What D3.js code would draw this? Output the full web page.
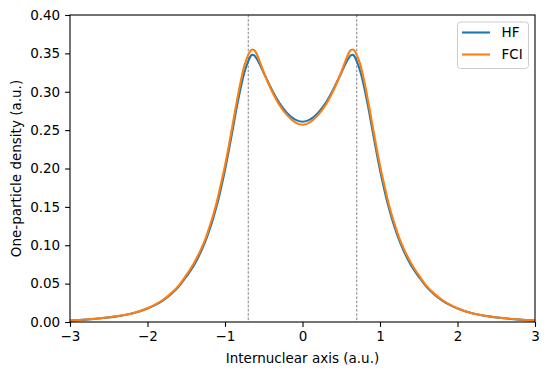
<!DOCTYPE html>
<html>
<head>
<meta charset="utf-8">
<script src="https://cdn.jsdelivr.net/npm/d3@7"></script>
<style>
  body { margin: 0; background: #fff; }
  svg { display: block; font-family: "DejaVu Sans", sans-serif; }
</style>
</head>
<body>
<svg id="chart" width="549" height="376"></svg>
<script>
// ---- data ----
const xValues = [-3.0, -2.8, -2.6, -2.4, -2.2, -2.0, -1.8, -1.7, -1.6, -1.5, -1.4, -1.3, -1.25, -1.2, -1.15, -1.1, -1.05, -1.0,
  -0.95, -0.9, -0.85, -0.8, -0.75, -0.7, -0.675, -0.65, -0.625, -0.6, -0.55, -0.5, -0.45, -0.4, -0.35, -0.3, -0.2, -0.1, 0.0,
  0.1, 0.2, 0.3, 0.35, 0.4, 0.45, 0.5, 0.55, 0.6, 0.625, 0.65, 0.675, 0.7, 0.75, 0.8, 0.85, 0.9, 0.95,
  1.0, 1.05, 1.1, 1.15, 1.2, 1.25, 1.3, 1.4, 1.5, 1.6, 1.7, 1.8, 2.0, 2.2, 2.4, 2.6, 2.8, 3.0];
const hfValues = [0.0019, 0.0031, 0.0048, 0.0073, 0.0110, 0.0175, 0.0280, 0.0360, 0.0460, 0.0590, 0.0740, 0.0940, 0.1060, 0.1200, 0.1360, 0.1540, 0.1750, 0.1980,
  0.2240, 0.2510, 0.2790, 0.3040, 0.3250, 0.3400, 0.3455, 0.3480, 0.3475, 0.3445, 0.3355, 0.3245, 0.3140, 0.3035, 0.2940, 0.2855, 0.2725, 0.2640, 0.2610,
  0.2640, 0.2725, 0.2855, 0.2940, 0.3035, 0.3140, 0.3245, 0.3355, 0.3445, 0.3475, 0.3480, 0.3455, 0.3400, 0.3250, 0.3040, 0.2790, 0.2510, 0.2240,
  0.1980, 0.1750, 0.1540, 0.1360, 0.1200, 0.1060, 0.0940, 0.0740, 0.0590, 0.0460, 0.0360, 0.0280, 0.0175, 0.0110, 0.0073, 0.0048, 0.0031, 0.0019];
const fciValues = [0.0020, 0.0032, 0.0050, 0.0075, 0.0110, 0.0180, 0.0290, 0.0370, 0.0470, 0.0610, 0.0770, 0.0970, 0.1090, 0.1240, 0.1400, 0.1590, 0.1810, 0.2040,
  0.2300, 0.2580, 0.2860, 0.3120, 0.3340, 0.3480, 0.3530, 0.3550, 0.3545, 0.3510, 0.3390, 0.3255, 0.3130, 0.3020, 0.2920, 0.2830, 0.2695, 0.2605, 0.2570,
  0.2605, 0.2695, 0.2830, 0.2920, 0.3020, 0.3130, 0.3255, 0.3390, 0.3510, 0.3545, 0.3550, 0.3530, 0.3480, 0.3340, 0.3120, 0.2860, 0.2580, 0.2300,
  0.2040, 0.1810, 0.1590, 0.1400, 0.1240, 0.1090, 0.0970, 0.0770, 0.0610, 0.0470, 0.0370, 0.0290, 0.0180, 0.0110, 0.0075, 0.0050, 0.0032, 0.0020];
const nucleusPositions = [-0.7, 0.7];
const xTicks = [-3, -2, -1, 0, 1, 2, 3];
const yTicks = [0, 0.05, 0.10, 0.15, 0.20, 0.25, 0.30, 0.35, 0.40];
const seriesNames = ["HF", "FCI"];
const seriesColors = ["#1f77b4", "#ff7f0e"];
const xLabel = "Internuclear axis (a.u.)";
const yLabel = "One-particle density (a.u.)";

// ---- layout ----
const W = 549, H = 376;
const margin = { left: 70, right: 14, top: 15, bottom: 54 };
const fontSize = 13.5;
const svg = d3.select("#chart");

const x = d3.scaleLinear().domain([-3, 3]).range([margin.left, W - margin.right]);
const y = d3.scaleLinear().domain([0, 0.40]).range([H - margin.bottom, margin.top]);

const fmtX = d => (d < 0 ? "\u2212" + Math.abs(d) : String(d));
const fmtY = d3.format(".2f");

// clip
svg.append("clipPath").attr("id", "clip").append("rect")
  .attr("x", margin.left).attr("y", margin.top)
  .attr("width", W - margin.left - margin.right).attr("height", H - margin.top - margin.bottom);

// nucleus lines
svg.append("g").selectAll("line").data(nucleusPositions).join("line")
  .attr("x1", d => x(d)).attr("x2", d => x(d))
  .attr("y1", margin.top).attr("y2", H - margin.bottom)
  .attr("stroke", "#333").attr("stroke-width", 0.6)
  .attr("stroke-dasharray", "2.6,1.6");

// lines
const seriesData = [hfValues, fciValues];
const line = d3.line()
  .x((d, i) => x(xValues[i]))
  .y(d => y(d))
  .curve(d3.curveMonotoneX);

svg.append("g").attr("clip-path", "url(#clip)").selectAll("path").data(seriesData).join("path")
  .attr("d", d => line(d))
  .attr("fill", "none")
  .attr("stroke", (d, i) => seriesColors[i])
  .attr("stroke-width", 2.1)
  .attr("stroke-linejoin", "round")
  .attr("stroke-linecap", "square");

// axes
const xAxis = d3.axisBottom(x).tickValues(xTicks).tickFormat(fmtX).tickSize(4.9).tickPadding(4.9);
const yAxis = d3.axisLeft(y).tickValues(yTicks).tickFormat(fmtY).tickSize(4.9).tickPadding(4.9);

const gx = svg.append("g").attr("transform", `translate(0,${H - margin.bottom})`).call(xAxis);
const gy = svg.append("g").attr("transform", `translate(${margin.left},0)`).call(yAxis);
[gx, gy].forEach(g => {
  g.select(".domain").remove();
  g.selectAll(".tick line").attr("stroke", "#000").attr("stroke-width", 1.1);
  g.selectAll(".tick text").attr("fill", "#000").style("font-size", fontSize + "px")
    .style("font-family", "'DejaVu Sans', sans-serif");
});

// frame
svg.append("rect")
  .attr("x", margin.left).attr("y", margin.top)
  .attr("width", W - margin.left - margin.right).attr("height", H - margin.top - margin.bottom)
  .attr("fill", "none").attr("stroke", "#000").attr("stroke-width", 1.1);

// axis labels
svg.append("text")
  .attr("x", (margin.left + W - margin.right) / 2).attr("y", 363)
  .attr("text-anchor", "middle").style("font-size", fontSize + "px").text(xLabel);
svg.append("text")
  .attr("transform", `translate(21,${(margin.top + H - margin.bottom) / 2}) rotate(-90)`)
  .attr("text-anchor", "middle").style("font-size", fontSize + "px").text(yLabel);

// legend
const lg = svg.append("g");
lg.append("rect").attr("x", 457.5).attr("y", 22).attr("width", 71).attr("height", 46.5)
  .attr("rx", 3).attr("fill", "#fff").attr("fill-opacity", 0.8)
  .attr("stroke", "#ccc").attr("stroke-width", 1);
seriesNames.forEach((name, i) => {
  const yy = 32.5 + i * 22;
  lg.append("line").attr("x1", 462).attr("x2", 490).attr("y1", yy).attr("y2", yy)
    .attr("stroke", seriesColors[i]).attr("stroke-width", 2.1);
  lg.append("text").attr("x", 501.5).attr("y", yy + 4.8)
    .style("font-size", fontSize + "px").text(name);
});
</script>
</body>
</html>
